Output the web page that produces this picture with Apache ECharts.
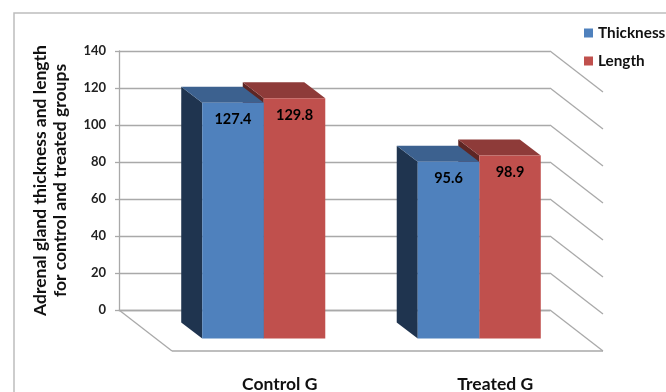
<!DOCTYPE html>
<html>
<head>
<meta charset="utf-8">
<style>html,body{margin:0;padding:0;background:#fff}#c{width:666px;height:392px}</style>
<script src="https://cdn.jsdelivr.net/npm/echarts@6/dist/echarts.min.js"></script>
</head>
<body>
<div id="c"></div>
<script>
const categories = ['Control G', 'Treated G'];
const thickness = [127.4, 95.6];
const length = [129.8, 98.9];
const yTicks = [0, 20, 40, 60, 80, 100, 120, 140];

const FONT = 'Lato';
const GRID_COLOR = '#a9a9a9';
const wallDepth = { x: 53, y: 41 };
const barBack = { x: 16, y: 12.5 };
const barFront = { x: 37, y: 28.5 };
const barWidthRatio = 0.2855;

function barRenderer(seriesIndexOffset, colors) {
  return function (params, api) {
    const idx = api.value(0), v = api.value(1);
    const top = api.coord([idx, v]);
    const base = api.coord([idx, 0]);
    const w = api.size([1, 0])[0] * barWidthRatio;
    const cx = top[0];
    const fl = cx + barFront.x + seriesIndexOffset * w;
    const fr = fl + w;
    const bl = cx + barBack.x + seriesIndexOffset * w;
    const br = bl + w;
    const ft = top[1] + barFront.y, fb = base[1] + barFront.y;
    const bt = top[1] + barBack.y, bb = base[1] + barBack.y;
    return {
      type: 'group',
      children: [
        { type: 'polygon', shape: { points: [[bl, bt], [fl, ft], [fl, fb], [bl, bb]] }, style: { fill: colors.side } },
        { type: 'polygon', shape: { points: [[bl, bt], [br, bt], [fr, ft], [fl, ft]] }, style: { fill: colors.top } },
        { type: 'rect', shape: { x: fl, y: ft, width: w, height: fb - ft }, style: { fill: colors.front } },
        { type: 'text', style: { x: (fl + fr) / 2, y: ft + 17, text: v.toFixed(1), fill: '#000', font: 'bold 14.5px ' + FONT, align: 'center', verticalAlign: 'middle' } }
      ]
    };
  };
}

function wallRenderer(params, api) {
  const v = api.value(0);
  const p = api.coord([0, v]);
  const cs = params.coordSys;
  const right = cs.x + cs.width;
  const lineStyle = { stroke: GRID_COLOR, lineWidth: 1.3 };
  const children = [
    { type: 'line', shape: { x1: right, y1: p[1], x2: right + wallDepth.x, y2: p[1] + wallDepth.y }, style: lineStyle }
  ];
  if (v === 0) {
    children.push(
      { type: 'line', shape: { x1: cs.x, y1: p[1], x2: cs.x + wallDepth.x, y2: p[1] + wallDepth.y }, style: lineStyle },
      { type: 'line', shape: { x1: cs.x + wallDepth.x, y1: p[1] + wallDepth.y, x2: right + wallDepth.x, y2: p[1] + wallDepth.y }, style: lineStyle }
    );
  }
  return { type: 'group', children };
}

const chart = echarts.init(document.getElementById('c'), null, { renderer: 'canvas' });
chart.setOption({
  animation: false,
  backgroundColor: '#fff',
  graphic: [{
    type: 'rect', silent: true, z: -1,
    shape: { x: 14, y: 13, width: 800, height: 600 },
    style: { fill: '#fff', stroke: '#bdbdbd', lineWidth: 1.5 }
  }],
  grid: { left: 119, top: 51, width: 431, height: 259, outerBoundsMode: 'none' },
  legend: {
    data: ['Thickness', 'Length'], orient: 'vertical', left: 579, top: 19,
    itemWidth: 9, itemHeight: 9, itemGap: 10, icon: 'rect',
    textStyle: { fontFamily: FONT, fontWeight: 'bold', fontSize: 15.3, color: '#111', lineHeight: 18, padding: [0, 0, 0, 0] }
  },
  xAxis: {
    type: 'category', data: categories, boundaryGap: true,
    axisLine: { show: true, lineStyle: { color: GRID_COLOR, width: 1.3 } },
    axisTick: { show: false },
    axisLabel: { margin: 65, interval: 0, color: '#111', fontFamily: FONT, fontWeight: 'bold', fontSize: 17.5, padding: [0, 0, 0, 106] }
  },
  yAxis: {
    type: 'value', min: 0, max: 140, interval: 20,
    name: 'Adrenal gland thickness and length\nfor control and treated groups',
    nameLocation: 'middle', nameGap: 49, nameRotate: 90,
    nameTextStyle: { fontFamily: FONT, fontWeight: 'bold', fontSize: 17.5, color: '#111', lineHeight: 20 },
    axisLine: { show: true, lineStyle: { color: GRID_COLOR, width: 1.3 } },
    axisTick: { show: true, length: 4, lineStyle: { color: GRID_COLOR, width: 1.3 } },
    axisLabel: { margin: 13, color: '#222', fontFamily: FONT, fontWeight: 'bold', fontSize: 13 },
    splitLine: { show: true, lineStyle: { color: GRID_COLOR, width: 1.3 } }
  },
  series: [
    {
      name: 'Walls', type: 'custom', z: 1, silent: true,
      data: yTicks.map(v => [v]), encode: { y: 0 },
      renderItem: wallRenderer
    },
    {
      name: 'Thickness', type: 'custom', z: 4,
      itemStyle: { color: '#4F81BD' },
      data: thickness.map((v, i) => [i, v]), encode: { x: 0, y: 1 },
      renderItem: barRenderer(-1, { front: '#4F81BD', top: '#3C618F', side: '#1F344F' })
    },
    {
      name: 'Length', type: 'custom', z: 3,
      itemStyle: { color: '#C0504D' },
      data: length.map((v, i) => [i, v]), encode: { x: 0, y: 1 },
      renderItem: barRenderer(0, { front: '#C0504D', top: '#8E3B39', side: '#5E2624' })
    }
  ]
});
</script>
</body>
</html>
